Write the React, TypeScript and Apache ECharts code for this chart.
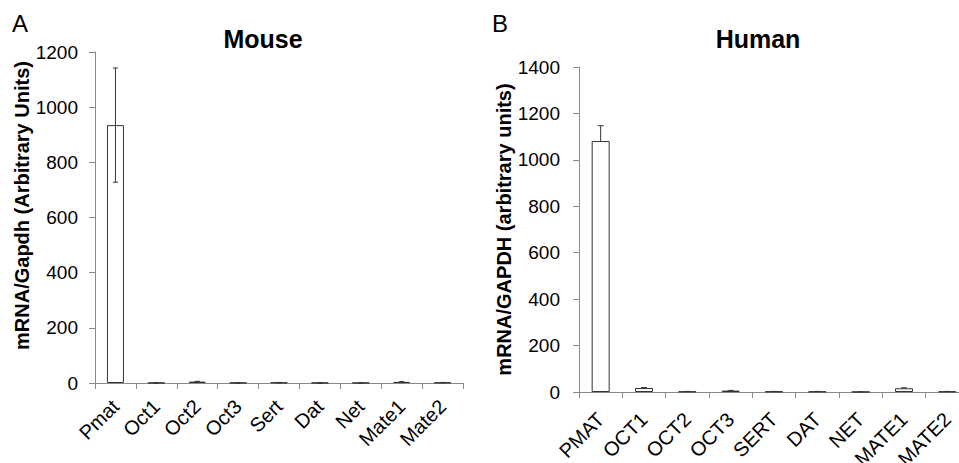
import React, { useEffect, useRef } from "react";
import * as echarts from "echarts";

const mouseCategories = ["Pmat", "Oct1", "Oct2", "Oct3", "Sert", "Dat", "Net", "Mate1", "Mate2"];
const mouseValues = [935, 0.5, 5, 0.5, 1.5, 0.5, 0.3, 4, 1.5];
const mouseErrors = [207, 0.3, 1, 0.3, 0.5, 0.3, 0.2, 1, 0.5];
const mouseTicks = [0, 200, 400, 600, 800, 1000, 1200];

const humanCategories = ["PMAT", "OCT1", "OCT2", "OCT3", "SERT", "DAT", "NET", "MATE1", "MATE2"];
const humanValues = [1081, 17, 2, 6, 2, 2, 0.5, 16, 2];
const humanErrors = [66, 2, 0.5, 1, 0.5, 0.5, 0.2, 2, 0.5];
const humanTicks = [0, 200, 400, 600, 800, 1000, 1200, 1400];

const FONT = "'Liberation Sans', Arial, sans-serif";
const AXIS_COLOR = "#8a8a8a";
const BAR_BORDER = "#333333";

function errorRenderer(capHalf: number, upOnly: boolean) {
  return (params: any, api: any) => {
    const idx = api.value(0);
    const mean = api.value(1);
    const err = api.value(2);
    const top = api.coord([idx, mean + err]);
    const bottom = api.coord([idx, upOnly ? mean : mean - err]);
    const style = { stroke: BAR_BORDER, lineWidth: 1 };
    const children: any[] = [
      { type: "line", shape: { x1: top[0], y1: top[1], x2: bottom[0], y2: bottom[1] }, style },
      { type: "line", shape: { x1: top[0] - capHalf, y1: top[1], x2: top[0] + capHalf, y2: top[1] }, style },
    ];
    if (!upOnly) {
      children.push({
        type: "line",
        shape: { x1: bottom[0] - capHalf, y1: bottom[1], x2: bottom[0] + capHalf, y2: bottom[1] },
        style,
      });
    }
    return { type: "group", children };
  };
}

function yAxisFor(
  gridIndex: number,
  ticks: number[],
  name: string,
  nameGap: number,
  margin: number,
  shift: number
) {
  return {
    type: "value",
    gridIndex,
    min: ticks[0],
    max: ticks[ticks.length - 1],
    interval: ticks[1] - ticks[0],
    name,
    nameLocation: "middle",
    nameGap,
    nameTextStyle: {
      fontFamily: FONT,
      fontSize: 20,
      fontWeight: "bold",
      color: "#000",
      padding: [0, 0, 0, shift],
    },
    axisLine: { show: true, lineStyle: { color: AXIS_COLOR, width: 1 } },
    axisTick: { show: true, length: 6, lineStyle: { color: AXIS_COLOR } },
    axisLabel: {
      fontFamily: FONT,
      fontSize: 19,
      color: "#000",
      margin,
      formatter: (v: number) => String(v),
    },
    splitLine: { show: false },
  };
}

function xAxisFor(gridIndex: number, cats: string[], margin: number) {
  return {
    type: "category",
    gridIndex,
    data: cats,
    axisLine: { show: true, lineStyle: { color: AXIS_COLOR, width: 1 } },
    axisTick: { show: true, length: 6, alignWithLabel: false, lineStyle: { color: AXIS_COLOR } },
    axisLabel: { fontFamily: FONT, fontSize: 20, color: "#000", rotate: 45, margin, interval: 0 },
  };
}

export default function App() {
  const ref = useRef<HTMLDivElement>(null);
  useEffect(() => {
    if (!ref.current) return;
    const chart = echarts.init(ref.current, undefined, { renderer: "svg" });
    chart.setOption({
      animation: false,
      backgroundColor: "#ffffff",
      title: [
        {
          text: "Mouse",
          left: 258,
          top: 21,
          textAlign: "center",
          textStyle: { fontFamily: FONT, fontSize: 25, fontWeight: "bold", color: "#000" },
        },
        {
          text: "Human",
          left: 753,
          top: 21,
          textAlign: "center",
          textStyle: { fontFamily: FONT, fontSize: 25, fontWeight: "bold", color: "#000" },
        },
      ],
      graphic: [
        { type: "text", left: 12, top: 11, style: { text: "A", font: `24px ${FONT}`, fill: "#000" } },
        { type: "text", left: 492, top: 11, style: { text: "B", font: `24px ${FONT}`, fill: "#000" } },
      ],
      grid: [
        { left: 95, right: 496, top: 52, bottom: 80, containLabel: false, outerBoundsMode: "none" },
        { left: 579, right: -10, top: 67, bottom: 71, containLabel: false, outerBoundsMode: "none" },
      ],
      xAxis: [xAxisFor(0, mouseCategories, 20), xAxisFor(1, humanCategories, 24)],
      yAxis: [
        yAxisFor(0, mouseTicks, "mRNA/Gapdh (Arbitrary Units)", 62, 17, 24),
        yAxisFor(1, humanTicks, "mRNA/GAPDH (arbitrary units)", 64, 19, 0),
      ],
      series: [
        {
          type: "bar",
          xAxisIndex: 0,
          yAxisIndex: 0,
          data: mouseValues,
          barWidth: 17,
          itemStyle: { color: "#ffffff", borderColor: BAR_BORDER, borderWidth: 1 },
        },
        {
          type: "custom",
          xAxisIndex: 0,
          yAxisIndex: 0,
          z: 3,
          data: mouseValues.map((v, i) => [i, v, mouseErrors[i]]),
          renderItem: errorRenderer(2.5, false),
        },
        {
          type: "bar",
          xAxisIndex: 1,
          yAxisIndex: 1,
          data: humanValues,
          barWidth: 18,
          itemStyle: { color: "#ffffff", borderColor: BAR_BORDER, borderWidth: 1 },
        },
        {
          type: "custom",
          xAxisIndex: 1,
          yAxisIndex: 1,
          z: 3,
          data: humanValues.map((v, i) => [i, v, humanErrors[i]]),
          renderItem: errorRenderer(3, true),
        },
      ],
    });
    return () => chart.dispose();
  }, []);
  return (
    <div
      ref={ref}
      style={{ position: "fixed", left: 0, top: 0, width: 959, height: 463, background: "#fff" }}
    />
  );
}
